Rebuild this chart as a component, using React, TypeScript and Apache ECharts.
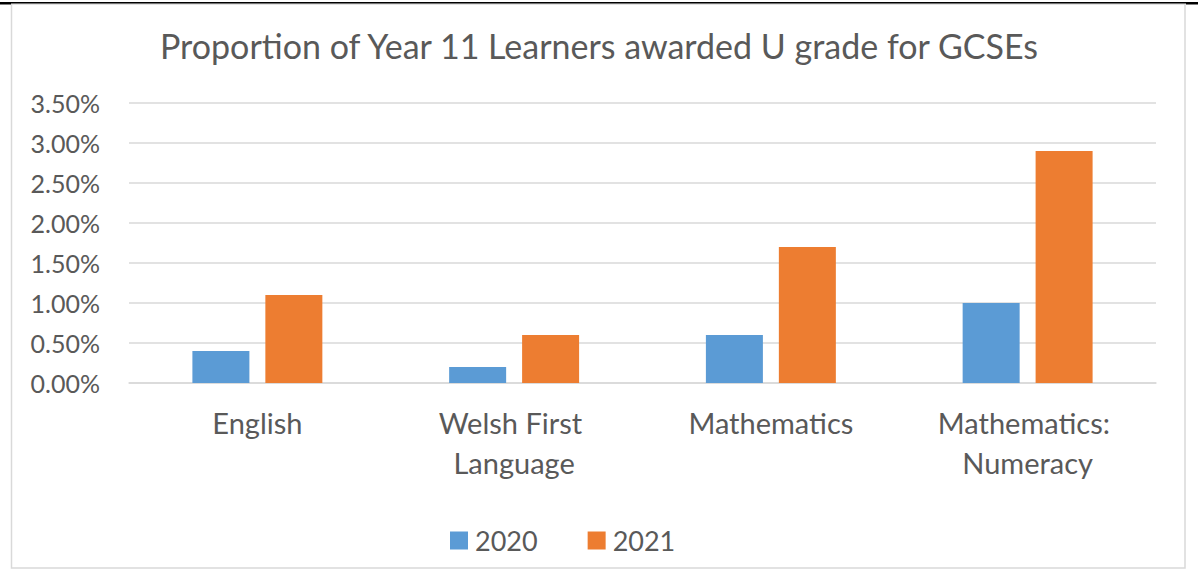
import React, { useEffect, useRef } from "react";
import * as echarts from "echarts";

const titleText = "Proportion of Year 11 Learners awarded U grade for GCSEs";
const categories = ["English", "Welsh First Language", "Mathematics", "Mathematics: Numeracy"];
const seriesNames = ["2020", "2021"];
const values2020 = [0.004, 0.002, 0.006, 0.01];
const values2021 = [0.011, 0.006, 0.017, 0.029];
const colors = ["#5B9BD5", "#ED7D31"];

const FONT = "Lato";
const TEXT = "#595959";

export default function App() {
  const ref = useRef<HTMLDivElement>(null);
  useEffect(() => {
    if (!ref.current) return;
    const chart = echarts.init(ref.current, undefined, { renderer: "svg" });
    chart.setOption({
      animation: false,
      backgroundColor: "#ffffff",
      textStyle: { fontFamily: FONT, color: TEXT },
      title: {
        text: titleText,
        left: "center",
        top: 23,
        textStyle: { fontFamily: FONT, fontSize: 34, fontWeight: "normal", color: TEXT },
      },
      graphic: [
        { type: "rect", shape: { x: 11.5, y: 4, width: 1173.5, height: 564 }, style: { fill: "none", stroke: "#d9d9d9", lineWidth: 1.5 }, silent: true },
        { type: "rect", shape: { x: 0, y: 2, width: 1198, height: 1.5 }, style: { fill: "#000000" }, silent: true },
        { type: "rect", shape: { x: 0, y: 2, width: 11, height: 2.5 }, style: { fill: "#000000" }, silent: true },
        { type: "rect", shape: { x: 1186, y: 2, width: 12, height: 2.5 }, style: { fill: "#000000" }, silent: true },
      ],
      legend: {
        data: seriesNames,
        left: 445,
        top: 522,
        icon: "rect",
        itemWidth: 18,
        itemHeight: 18,
        itemGap: 50,
        textStyle: { fontFamily: FONT, fontSize: 27, color: TEXT, padding: [0, 0, 0, 2] },
      },
      grid: { left: 129, right: 42, top: 103, bottom: 187, containLabel: false },
      xAxis: {
        type: "category",
        data: categories,
        axisLine: { show: true, lineStyle: { color: "#d9d9d9", width: 1.5 } },
        axisTick: { show: false },
        axisLabel: {
          fontFamily: FONT,
          fontSize: 29,
          color: TEXT,
          margin: 19,
          lineHeight: 40,
          width: 200,
          overflow: "break",
          interval: 0,
        },
      },
      yAxis: {
        type: "value",
        min: 0,
        max: 0.035,
        interval: 0.005,
        axisLine: { show: false },
        axisTick: { show: false },
        splitLine: { lineStyle: { color: "#d9d9d9", width: 1.5 } },
        axisLabel: {
          fontFamily: FONT,
          fontSize: 25,
          color: TEXT,
          margin: 29,
          formatter: (v: number) => (v * 100).toFixed(2) + "%",
        },
      },
      series: [
        { name: seriesNames[0], type: "bar", data: values2020, barWidth: 57, barGap: "28%", itemStyle: { color: colors[0] } },
        { name: seriesNames[1], type: "bar", data: values2021, barWidth: 57, barGap: "28%", itemStyle: { color: colors[1] } },
      ],
    });
    return () => chart.dispose();
  }, []);
  return <div ref={ref} style={{ position: "absolute", left: 0, top: 0, width: 1198, height: 570 }} />;
}
